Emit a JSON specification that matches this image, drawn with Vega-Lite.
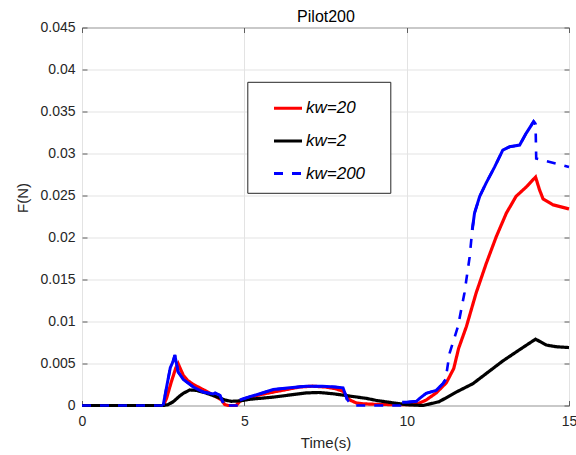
{
  "$schema": "https://vega.github.io/schema/vega-lite/v6.json",
  "width": 487,
  "height": 378,
  "autosize": {"type": "none"},
  "padding": {"left": 82, "top": 27.5, "right": 7, "bottom": 49.5},
  "background": "white",
  "config": {
    "font": "Liberation Sans",
    "view": {"stroke": "#5f5f5f", "strokeWidth": 1},
    "axis": {
      "labelFont": "Liberation Sans", "labelFontSize": 14, "labelColor": "#262626",
      "titleFont": "Liberation Sans", "titleFontSize": 15, "titleFontWeight": "normal", "titleColor": "#262626",
      "domain": false, "tickColor": "#5f5f5f", "gridColor": "#e3e3e3", "gridOpacity": 1,
      "labelFlush": false, "labelOverlap": false
    },
    "legend": {
      "orient": "none", "legendX": 165.3, "legendY": 54.3, "title": null,
      "symbolType": "stroke", "symbolSize": 784, "symbolStrokeWidth": 3,
      "labelFont": "Liberation Sans", "labelFontSize": 17, "labelFontStyle": "italic", "labelColor": "#000000",
      "strokeColor": "#262626", "fillColor": "white", "padding": 11, "rowPadding": 8.6,
      "symbolOffset": 14.2, "labelOffset": 2.5
    }
  },
  "data": {"values": [
    {"t": 0, "F": 0, "s": "kw=20"},
    {"t": 2.5, "F": 0, "s": "kw=20"},
    {"t": 2.6, "F": 0.0008, "s": "kw=20"},
    {"t": 2.75, "F": 0.0028, "s": "kw=20"},
    {"t": 2.9, "F": 0.0046, "s": "kw=20"},
    {"t": 2.96, "F": 0.005, "s": "kw=20"},
    {"t": 3.05, "F": 0.0042, "s": "kw=20"},
    {"t": 3.12, "F": 0.0036, "s": "kw=20"},
    {"t": 3.25, "F": 0.003, "s": "kw=20"},
    {"t": 3.43, "F": 0.0025, "s": "kw=20"},
    {"t": 3.73, "F": 0.0019, "s": "kw=20"},
    {"t": 4.04, "F": 0.00125, "s": "kw=20"},
    {"t": 4.3, "F": 0.00065, "s": "kw=20"},
    {"t": 4.4, "F": 0.0001, "s": "kw=20"},
    {"t": 4.5, "F": 0, "s": "kw=20"},
    {"t": 4.75, "F": 0, "s": "kw=20"},
    {"t": 4.86, "F": 0.0005, "s": "kw=20"},
    {"t": 5.0, "F": 0.0008, "s": "kw=20"},
    {"t": 5.2, "F": 0.001, "s": "kw=20"},
    {"t": 5.5, "F": 0.0013, "s": "kw=20"},
    {"t": 5.89, "F": 0.0016, "s": "kw=20"},
    {"t": 6.3, "F": 0.0019, "s": "kw=20"},
    {"t": 6.7, "F": 0.0022, "s": "kw=20"},
    {"t": 7.1, "F": 0.0023, "s": "kw=20"},
    {"t": 7.5, "F": 0.0022, "s": "kw=20"},
    {"t": 7.8, "F": 0.002, "s": "kw=20"},
    {"t": 8.04, "F": 0.0017, "s": "kw=20"},
    {"t": 8.15, "F": 0.0011, "s": "kw=20"},
    {"t": 8.25, "F": 0.00065, "s": "kw=20"},
    {"t": 8.45, "F": 0.0003, "s": "kw=20"},
    {"t": 8.66, "F": 0.0002, "s": "kw=20"},
    {"t": 9.0, "F": 0.00015, "s": "kw=20"},
    {"t": 9.6, "F": 0.0001, "s": "kw=20"},
    {"t": 10.2, "F": 0.0001, "s": "kw=20"},
    {"t": 10.4, "F": 0.0003, "s": "kw=20"},
    {"t": 10.6, "F": 0.00065, "s": "kw=20"},
    {"t": 10.91, "F": 0.0015, "s": "kw=20"},
    {"t": 11.22, "F": 0.0027, "s": "kw=20"},
    {"t": 11.45, "F": 0.0044, "s": "kw=20"},
    {"t": 11.6, "F": 0.0068, "s": "kw=20"},
    {"t": 11.84, "F": 0.0094, "s": "kw=20"},
    {"t": 12.14, "F": 0.0134, "s": "kw=20"},
    {"t": 12.45, "F": 0.0169, "s": "kw=20"},
    {"t": 12.76, "F": 0.0201, "s": "kw=20"},
    {"t": 13.07, "F": 0.0229, "s": "kw=20"},
    {"t": 13.37, "F": 0.0249, "s": "kw=20"},
    {"t": 13.68, "F": 0.026, "s": "kw=20"},
    {"t": 13.97, "F": 0.0272, "s": "kw=20"},
    {"t": 14.09, "F": 0.0257, "s": "kw=20"},
    {"t": 14.2, "F": 0.0246, "s": "kw=20"},
    {"t": 14.5, "F": 0.0239, "s": "kw=20"},
    {"t": 15, "F": 0.0234, "s": "kw=20"},

    {"t": 0, "F": 0, "s": "kw=2"},
    {"t": 2.5, "F": 0, "s": "kw=2"},
    {"t": 2.65, "F": 0.0001, "s": "kw=2"},
    {"t": 2.81, "F": 0.00045, "s": "kw=2"},
    {"t": 3.0, "F": 0.0011, "s": "kw=2"},
    {"t": 3.12, "F": 0.00145, "s": "kw=2"},
    {"t": 3.32, "F": 0.00185, "s": "kw=2"},
    {"t": 3.53, "F": 0.0018, "s": "kw=2"},
    {"t": 3.84, "F": 0.00145, "s": "kw=2"},
    {"t": 4.14, "F": 0.00105, "s": "kw=2"},
    {"t": 4.4, "F": 0.00065, "s": "kw=2"},
    {"t": 4.6, "F": 0.0005, "s": "kw=2"},
    {"t": 4.86, "F": 0.00055, "s": "kw=2"},
    {"t": 5.17, "F": 0.00074, "s": "kw=2"},
    {"t": 5.48, "F": 0.00085, "s": "kw=2"},
    {"t": 5.9, "F": 0.001, "s": "kw=2"},
    {"t": 6.5, "F": 0.0013, "s": "kw=2"},
    {"t": 6.91, "F": 0.0015, "s": "kw=2"},
    {"t": 7.3, "F": 0.00155, "s": "kw=2"},
    {"t": 7.73, "F": 0.0014, "s": "kw=2"},
    {"t": 8.1, "F": 0.0012, "s": "kw=2"},
    {"t": 8.76, "F": 0.00085, "s": "kw=2"},
    {"t": 9.07, "F": 0.0006, "s": "kw=2"},
    {"t": 9.68, "F": 0.00026, "s": "kw=2"},
    {"t": 10.0, "F": 0.0001, "s": "kw=2"},
    {"t": 10.5, "F": 0, "s": "kw=2"},
    {"t": 11.0, "F": 0.00045, "s": "kw=2"},
    {"t": 11.53, "F": 0.0016, "s": "kw=2"},
    {"t": 12.04, "F": 0.0026, "s": "kw=2"},
    {"t": 12.45, "F": 0.0038, "s": "kw=2"},
    {"t": 12.96, "F": 0.0053, "s": "kw=2"},
    {"t": 13.5, "F": 0.0067, "s": "kw=2"},
    {"t": 13.97, "F": 0.0079, "s": "kw=2"},
    {"t": 14.3, "F": 0.0072, "s": "kw=2"},
    {"t": 14.6, "F": 0.007, "s": "kw=2"},
    {"t": 15, "F": 0.0069, "s": "kw=2"},

    {"t": 0, "F": 0, "s": "kw=200", "seg": 0},
    {"t": 2.5, "F": 0, "s": "kw=200", "seg": 1},
    {"t": 2.62, "F": 0.0025, "s": "kw=200", "seg": 1},
    {"t": 2.72, "F": 0.0045, "s": "kw=200", "seg": 1},
    {"t": 2.8, "F": 0.0052, "s": "kw=200", "seg": 1},
    {"t": 2.86, "F": 0.006, "s": "kw=200", "seg": 1},
    {"t": 2.92, "F": 0.0048, "s": "kw=200", "seg": 1},
    {"t": 2.96, "F": 0.004, "s": "kw=200", "seg": 1},
    {"t": 3.12, "F": 0.0031, "s": "kw=200", "seg": 1},
    {"t": 3.43, "F": 0.0022, "s": "kw=200", "seg": 1},
    {"t": 3.73, "F": 0.0016, "s": "kw=200", "seg": 1},
    {"t": 4.04, "F": 0.00137, "s": "kw=200", "seg": 1},
    {"t": 4.1, "F": 0.0015, "s": "kw=200", "seg": 1},
    {"t": 4.25, "F": 0.0012, "s": "kw=200", "seg": 1},
    {"t": 4.35, "F": 0.0003, "s": "kw=200", "seg": 1},
    {"t": 4.4, "F": 0, "s": "kw=200", "seg": 0},
    {"t": 4.8, "F": 0, "s": "kw=200", "seg": 0},
    {"t": 4.86, "F": 0.00065, "s": "kw=200", "seg": 2},
    {"t": 5.17, "F": 0.00105, "s": "kw=200", "seg": 2},
    {"t": 5.48, "F": 0.0014, "s": "kw=200", "seg": 2},
    {"t": 5.89, "F": 0.0019, "s": "kw=200", "seg": 2},
    {"t": 6.4, "F": 0.0021, "s": "kw=200", "seg": 2},
    {"t": 6.91, "F": 0.0023, "s": "kw=200", "seg": 2},
    {"t": 7.4, "F": 0.0023, "s": "kw=200", "seg": 2},
    {"t": 7.8, "F": 0.0022, "s": "kw=200", "seg": 2},
    {"t": 8.04, "F": 0.0021, "s": "kw=200", "seg": 2},
    {"t": 8.17, "F": 0.0007, "s": "kw=200", "seg": 2},
    {"t": 8.3, "F": 0.0001, "s": "kw=200", "seg": 0},
    {"t": 8.35, "F": 0, "s": "kw=200", "seg": 0},
    {"t": 9.8, "F": 0, "s": "kw=200", "seg": 0},
    {"t": 9.86, "F": 0.0004, "s": "kw=200", "seg": 3},
    {"t": 10.0, "F": 0.0004, "s": "kw=200", "seg": 3},
    {"t": 10.3, "F": 0.0005, "s": "kw=200", "seg": 3},
    {"t": 10.4, "F": 0.00085, "s": "kw=200", "seg": 3},
    {"t": 10.6, "F": 0.00145, "s": "kw=200", "seg": 3},
    {"t": 10.91, "F": 0.0018, "s": "kw=200", "seg": 3},
    {"t": 11.12, "F": 0.0026, "s": "kw=200", "seg": 3},
    {"t": 11.2, "F": 0.0031, "s": "kw=200", "seg": 3},
    {"t": 11.32, "F": 0.0062, "s": "kw=200", "seg": 0},
    {"t": 11.58, "F": 0.0094, "s": "kw=200", "seg": 0},
    {"t": 11.78, "F": 0.0134, "s": "kw=200", "seg": 0},
    {"t": 11.94, "F": 0.0177, "s": "kw=200", "seg": 0},
    {"t": 12.02, "F": 0.0209, "s": "kw=200", "seg": 4},
    {"t": 12.09, "F": 0.0229, "s": "kw=200", "seg": 4},
    {"t": 12.25, "F": 0.0249, "s": "kw=200", "seg": 4},
    {"t": 12.45, "F": 0.0265, "s": "kw=200", "seg": 4},
    {"t": 12.71, "F": 0.0284, "s": "kw=200", "seg": 4},
    {"t": 12.96, "F": 0.0304, "s": "kw=200", "seg": 4},
    {"t": 13.17, "F": 0.0308, "s": "kw=200", "seg": 4},
    {"t": 13.48, "F": 0.031, "s": "kw=200", "seg": 4},
    {"t": 13.68, "F": 0.0324, "s": "kw=200", "seg": 4},
    {"t": 13.91, "F": 0.0338, "s": "kw=200", "seg": 4},
    {"t": 13.97, "F": 0.0335, "s": "kw=200", "seg": 4},
    {"t": 13.99, "F": 0.0294, "s": "kw=200", "seg": 0},
    {"t": 15, "F": 0.0284, "s": "kw=200", "seg": 0}
  ]},
  "layer": [
    {
      "transform": [{"filter": "datum.s === 'kw=20'"}],
      "mark": {"type": "line", "strokeWidth": 3.2},
      "encoding": {
        "x": {"field": "t", "type": "quantitative", "scale": {"domain": [0, 15], "nice": false, "zero": false},
              "axis": {"orient": "bottom", "values": [0, 5, 10, 15], "format": "d", "tickSize": -5, "labelPadding": 14, "grid": true, "title": "Time(s)", "titlePadding": 7}},
        "y": {"field": "F", "type": "quantitative", "scale": {"domain": [0, 0.045], "nice": false},
              "axis": {"orient": "left", "values": [0, 0.005, 0.01, 0.015, 0.02, 0.025, 0.03, 0.035, 0.04, 0.045], "format": "~g", "tickSize": -5, "labelPadding": 12, "grid": true, "title": "F(N)", "titlePadding": 9, "titleY": 170}},
        "color": {"field": "s", "type": "nominal", "scale": {"domain": ["kw=20", "kw=2", "kw=200"], "range": ["#ff0000", "#000000", "#0000ff"]},
                  "legend": {"labelExpr": "datum.label + '\u00a0\u00a0\u00a0\u2060'"}},
        "strokeDash": {"field": "s", "type": "nominal", "scale": {"domain": ["kw=20", "kw=2", "kw=200"], "range": [[1, 0], [1, 0], [9, 9]]}}
      }
    },
    {
      "transform": [{"filter": "datum.s === 'kw=2'"}],
      "mark": {"type": "line", "strokeWidth": 3.2},
      "encoding": {
        "x": {"field": "t", "type": "quantitative",
              "axis": {"orient": "top", "values": [0, 5, 10, 15], "tickSize": -5, "labels": false, "grid": false, "minExtent": 0, "maxExtent": 0,
                       "title": "Pilot200", "titleFontSize": 16, "titleColor": "#000000", "titlePadding": 3.5, "titleFontWeight": "normal"}},
        "y": {"field": "F", "type": "quantitative",
              "axis": {"orient": "right", "values": [0, 0.005, 0.01, 0.015, 0.02, 0.025, 0.03, 0.035, 0.04, 0.045], "tickSize": -5, "labels": false, "grid": false, "title": null, "minExtent": 0, "maxExtent": 0}},
        "color": {"field": "s", "type": "nominal"},
        "strokeDash": {"field": "s", "type": "nominal"}
      }
    },
    {
      "transform": [{"filter": "datum.s === 'kw=200'"}],
      "mark": {"type": "line", "strokeWidth": 2.6},
      "encoding": {
        "x": {"field": "t", "type": "quantitative", "axis": null},
        "y": {"field": "F", "type": "quantitative", "axis": null},
        "color": {"field": "s", "type": "nominal"},
        "strokeDash": {"field": "s", "type": "nominal"}
      }
    },
    {
      "transform": [{"filter": "datum.s === 'kw=200' && datum.seg > 0"}],
      "mark": {"type": "line", "strokeWidth": 3, "color": "#0000ff"},
      "encoding": {
        "x": {"field": "t", "type": "quantitative", "axis": null},
        "y": {"field": "F", "type": "quantitative", "axis": null},
        "detail": {"field": "seg", "type": "nominal"}
      }
    }
  ],
  "resolve": {"axis": {"x": "independent", "y": "independent"}}
}
